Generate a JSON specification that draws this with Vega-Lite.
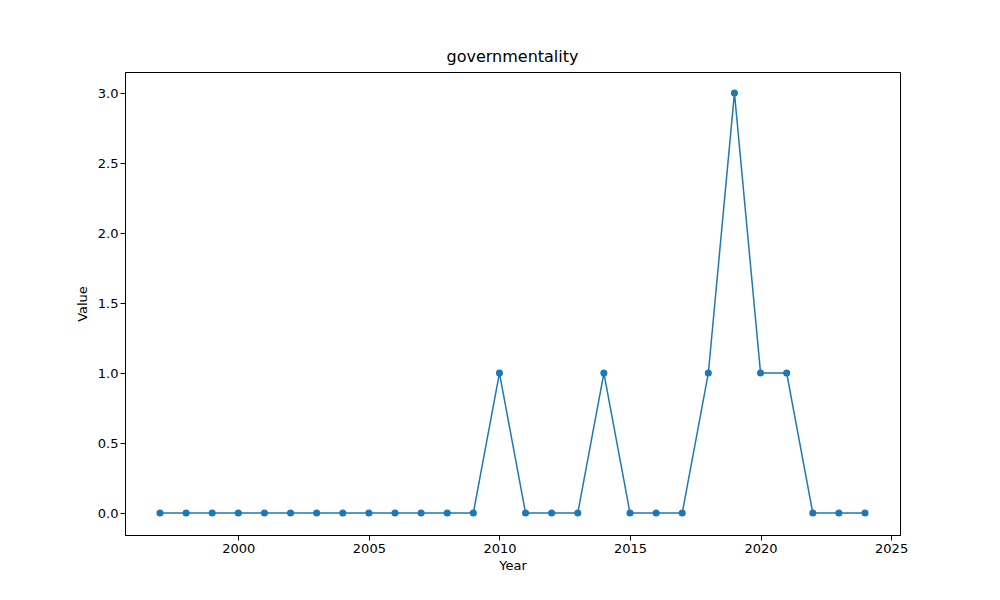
{
  "$schema": "https://vega.github.io/schema/vega-lite/v6.json",
  "width": 775,
  "height": 463,
  "autosize": {"type": "none"},
  "padding": {"left": 125, "top": 72, "right": 100, "bottom": 65},
  "background": "white",
  "title": {"text": "governmentality", "fontSize": 16, "fontWeight": "normal", "font": "DejaVu Sans", "color": "black", "offset": 7},
  "config": {
    "view": {"stroke": "black", "strokeWidth": 1},
    "axis": {"labelFont": "DejaVu Sans", "titleFont": "DejaVu Sans", "labelFontSize": 13, "titleFontSize": 13, "titleFontWeight": "normal", "labelColor": "black", "titleColor": "black", "tickColor": "black", "domainColor": "black", "grid": false, "tickSize": 5}
  },
  "data": {"values": [
    {"year": 1997, "value": 0}, {"year": 1998, "value": 0}, {"year": 1999, "value": 0},
    {"year": 2000, "value": 0}, {"year": 2001, "value": 0}, {"year": 2002, "value": 0},
    {"year": 2003, "value": 0}, {"year": 2004, "value": 0}, {"year": 2005, "value": 0},
    {"year": 2006, "value": 0}, {"year": 2007, "value": 0}, {"year": 2008, "value": 0},
    {"year": 2009, "value": 0}, {"year": 2010, "value": 1}, {"year": 2011, "value": 0},
    {"year": 2012, "value": 0}, {"year": 2013, "value": 0}, {"year": 2014, "value": 1},
    {"year": 2015, "value": 0}, {"year": 2016, "value": 0}, {"year": 2017, "value": 0},
    {"year": 2018, "value": 1}, {"year": 2019, "value": 3}, {"year": 2020, "value": 1},
    {"year": 2021, "value": 1}, {"year": 2022, "value": 0}, {"year": 2023, "value": 0},
    {"year": 2024, "value": 0}
  ]},
  "mark": {"type": "line", "color": "#1f77b4", "strokeWidth": 1.5, "point": {"filled": true, "size": 50, "color": "#1f77b4", "opacity": 1}},
  "encoding": {
    "x": {"field": "year", "type": "quantitative", "title": "Year",
      "scale": {"domain": [1995.66, 2025.34], "nice": false, "zero": false},
      "axis": {"values": [2000, 2005, 2010, 2015, 2020, 2025], "format": "d", "titlePadding": 4}},
    "y": {"field": "value", "type": "quantitative", "title": "Value",
      "scale": {"domain": [-0.157, 3.15], "nice": false, "zero": false},
      "axis": {"values": [0, 0.5, 1, 1.5, 2, 2.5, 3], "format": ".1f", "titlePadding": 8}}
  }
}
